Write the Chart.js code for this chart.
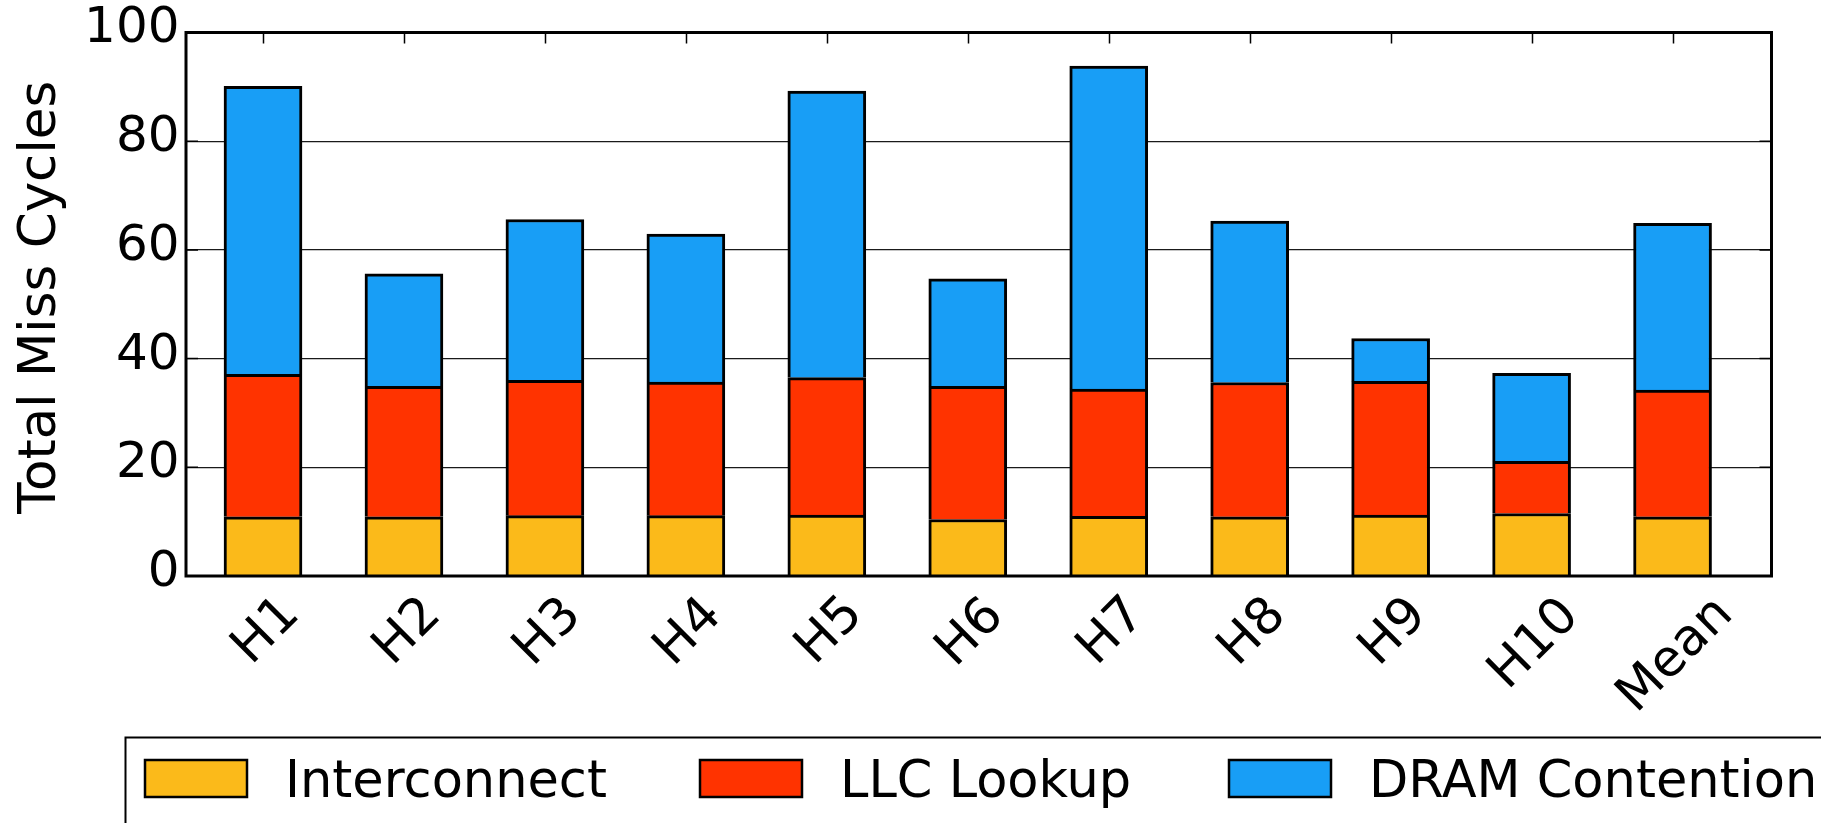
<!DOCTYPE html>
<html>
<head>
<meta charset="utf-8">
<title>Total Miss Cycles</title>
<script src="https://cdn.jsdelivr.net/npm/chart.js@4.4.1/dist/chart.umd.min.js"></script>
<style>
  html, body { margin: 0; padding: 0; background: #fff; overflow: hidden; }
  #wrap { width: 1821px; height: 823px; }
</style>
</head>
<body>
<div id="wrap"><canvas id="chart" width="1821" height="823"></canvas></div>
<script>
const categories = ['H1', 'H2', 'H3', 'H4', 'H5', 'H6', 'H7', 'H8', 'H9', 'H10', 'Mean'];
const interconnect = [10.9, 10.9, 11.1, 11.1, 11.2, 10.4, 11.0, 10.9, 11.2, 11.5, 10.9];
const llcLookup = [26.2, 24.0, 24.9, 24.6, 25.3, 24.5, 23.4, 24.7, 24.6, 9.6, 23.3];
const dramContention = [53.0, 20.7, 29.6, 27.2, 52.7, 19.8, 59.4, 29.7, 7.9, 16.2, 30.7];
const yTicks = [0, 20, 40, 60, 80, 100];
const yTitle = 'Total Miss Cycles';

const FONT = '"DejaVu Sans", sans-serif';

// bars sit on a linear index axis so the uneven side margins can be matched
const toPoints = vals => vals.map((v, i) => ({ x: i, y: v }));

const series = [
  { label: 'Interconnect', data: interconnect, color: '#FBBA1A' },
  { label: 'LLC Lookup', data: llcLookup, color: '#FF3300' },
  { label: 'DRAM Contention', data: dramContention, color: '#189EF6' },
];

const decorPlugin = {
  id: 'decor',
  afterDatasetsDraw(chart) {
    const { ctx, chartArea: a, scales: { x, y } } = chart;
    ctx.save();
    ctx.strokeStyle = '#000';
    ctx.lineWidth = 1.5;
    ctx.beginPath();
    categories.forEach((c, i) => {
      const px = Math.round(x.getPixelForValue(i)) + 0.5;
      ctx.moveTo(px, a.top);
      ctx.lineTo(px, a.top + 11);
    });
    yTicks.forEach(v => {
      const py = y.getPixelForValue(v);
      ctx.moveTo(a.left, py);
      ctx.lineTo(a.left + 12, py);
      ctx.moveTo(a.right, py);
      ctx.lineTo(a.right - 12, py);
    });
    ctx.stroke();
    ctx.lineWidth = 3;
    ctx.strokeRect(a.left, a.top, a.right - a.left, a.bottom - a.top);
    ctx.restore();
  },
  afterDraw(chart) {
    const { ctx, chartArea: a, scales: { x } } = chart;
    ctx.save();
    ctx.fillStyle = '#000';

    // y axis title, a touch above the axis centre as in the original
    ctx.font = '51.5px ' + FONT;
    ctx.save();
    ctx.translate(42, (a.top + a.bottom) / 2 - 7);
    ctx.rotate(-Math.PI / 2);
    ctx.textAlign = 'center';
    ctx.textBaseline = 'middle';
    ctx.fillText(yTitle, 0, 0);
    ctx.restore();

    // rotated category labels, centred under each tick like matplotlib
    ctx.font = '51px ' + FONT;
    const top = a.bottom + 16;
    categories.forEach((c, i) => {
      const m = ctx.measureText(c);
      const inkW = m.actualBoundingBoxLeft + m.actualBoundingBoxRight;
      const inkH = m.actualBoundingBoxAscent + m.actualBoundingBoxDescent;
      const ext = (inkW + inkH) / Math.SQRT2;
      const cx = (m.actualBoundingBoxRight - m.actualBoundingBoxLeft) / 2;
      const cy = (m.actualBoundingBoxDescent - m.actualBoundingBoxAscent) / 2;
      ctx.save();
      ctx.translate(x.getPixelForValue(i), top + ext / 2);
      ctx.rotate(-Math.PI / 4);
      ctx.textAlign = 'left';
      ctx.textBaseline = 'alphabetic';
      ctx.fillText(c, -cx, -cy);
      ctx.restore();
    });

    // legend box (runs off the right and bottom edge)
    ctx.lineWidth = 2;
    ctx.strokeStyle = '#000';
    ctx.strokeRect(125.5, 737.5, 1800, 200);
    const swatchX = [145, 700, 1229];
    ctx.textAlign = 'left';
    ctx.textBaseline = 'alphabetic';
    chart.data.datasets.forEach((ds, i) => {
      const sx = swatchX[i];
      ctx.fillStyle = ds.backgroundColor;
      ctx.fillRect(sx, 760, 102, 37);
      ctx.lineWidth = 2.5;
      ctx.strokeRect(sx, 760, 102, 37);
      ctx.fillStyle = '#000';
      ctx.fillText(ds.label, sx + 140, 796.5);
    });
    ctx.restore();
  }
};

new Chart(document.getElementById('chart'), {
  type: 'bar',
  data: {
    datasets: series.map(s => ({
      label: s.label,
      data: toPoints(s.data),
      backgroundColor: s.color,
      borderColor: '#000',
      borderWidth: 3,
      borderSkipped: 'start',
      barThickness: 78,
    })),
  },
  options: {
    responsive: false,
    animation: false,
    devicePixelRatio: 1,
    layout: { padding: { left: 0, right: 49.5, top: 32.5, bottom: 0 } },
    plugins: {
      legend: { display: false },
      tooltip: { enabled: false },
    },
    scales: {
      x: {
        type: 'linear',
        stacked: true,
        offset: false,
        min: -0.5463,
        max: 10.702,
        grid: { display: false },
        border: { display: false },
        ticks: { display: false },
        afterFit: s => {
          s.height = 247;
          s.paddingLeft = s.paddingRight = 0;
        },
      },
      y: {
        stacked: true,
        min: 0,
        max: 100,
        afterBuildTicks: s => { s.ticks = yTicks.map(v => ({ value: v })); },
        grid: { color: '#1a1a1a', lineWidth: 1.3, drawTicks: false },
        border: { display: false },
        ticks: {
          color: '#000',
          padding: 6.5,
          labelOffset: -3,
          font: { family: FONT, size: 50 },
        },
        afterFit: s => {
          s.width = 186;
          s.paddingTop = s.paddingBottom = 0;
        },
      },
    },
  },
  plugins: [decorPlugin],
});
</script>
</body>
</html>
